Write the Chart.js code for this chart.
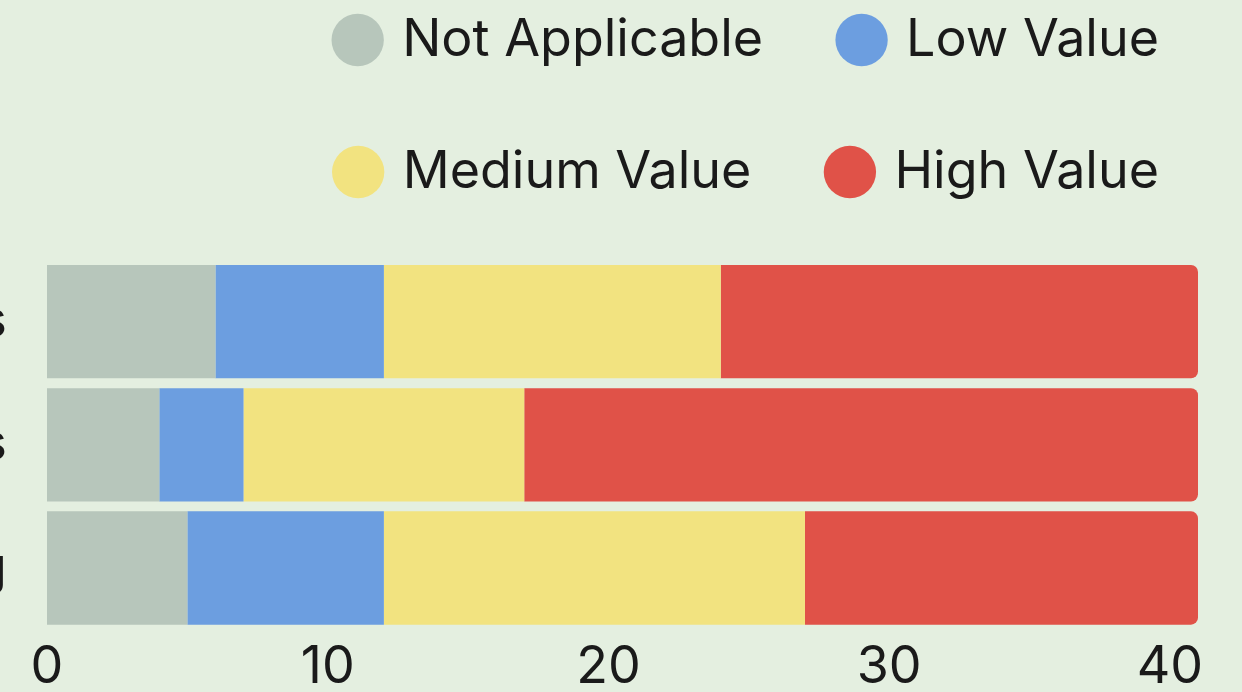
<!DOCTYPE html>
<html>
<head>
<meta charset="utf-8">
<script src="https://cdn.jsdelivr.net/npm/chart.js@4"></script>
<style>
  html, body {
    margin: 0;
    padding: 0;
    width: 1242px;
    height: 692px;
    overflow: hidden;
    background: #e4efe0;
  }
  .chart-wrap {
    position: absolute;
    left: 0;
    top: -66px;
    width: 1239px;
    height: 772px;
  }
</style>
</head>
<body>
<div class="chart-wrap">
  <canvas id="value-chart"></canvas>
</div>
<script>
const categories = ["Tools & Systems", "Processes", "Reporting"];
const seriesNames = ["Not Applicable", "Low Value", "Medium Value", "High Value"];
const notApplicable = [6, 4, 5];
const lowValue = [6, 3, 7];
const mediumValue = [12, 10, 15];
const highValue = [17, 24, 14];
const xTicks = [0, 10, 20, 30, 40];
const xMax = 41;

const colors = ["#b7c6bb", "#6c9ee0", "#f2e380", "#e05248"];
const textColor = "#1a1a1a";
const font = { family: "Inter", size: 52 };

Chart.defaults.font.family = "Inter";
Chart.defaults.color = textColor;

const seriesValues = [notApplicable, lowValue, mediumValue, highValue];

const datasets = seriesNames.map((name, i) => ({
  label: name,
  data: seriesValues[i],
  backgroundColor: colors[i],
  borderWidth: 0,
  // only the end of the stack gets rounded corners
  borderRadius: i === seriesNames.length - 1 ? 7 : 0,
  barPercentage: 1,
  categoryPercentage: 0.92,
}));

new Chart(document.getElementById("value-chart"), {
  type: "bar",
  data: {
    labels: categories,
    datasets: datasets,
  },
  options: {
    indexAxis: "y",
    responsive: true,
    maintainAspectRatio: false,
    animation: false,
    layout: { padding: 0 },
    plugins: {
      legend: {
        position: "top",
        align: "end",
        labels: {
          usePointStyle: true,
          pointStyle: "circle",
          boxWidth: 37,
          boxHeight: 37,
          padding: 80,
          color: textColor,
          font: font,
        },
      },
      // empty subtitle used as a spacer under the legend
      subtitle: {
        display: true,
        text: "",
        weight: 500,
        font: { size: 10 },
        padding: { top: 40, bottom: 0 },
      },
      tooltip: { enabled: false },
    },
    scales: {
      x: {
        stacked: true,
        min: 0,
        max: xMax,
        grid: { display: false, drawTicks: false },
        border: { display: false },
        ticks: {
          stepSize: 10,
          includeBounds: false,
          padding: 7,
          color: textColor,
          font: font,
          callback: (value) => (xTicks.includes(value) ? value : ""),
        },
        afterFit: (scale) => {
          scale.paddingRight = 41;
        },
      },
      y: {
        stacked: true,
        grid: { display: false, drawTicks: false },
        border: { display: false },
        ticks: {
          padding: 40,
          color: textColor,
          font: font,
        },
        afterFit: (scale) => {
          scale.width = 47;
        },
      },
    },
  },
});
</script>
</body>
</html>
